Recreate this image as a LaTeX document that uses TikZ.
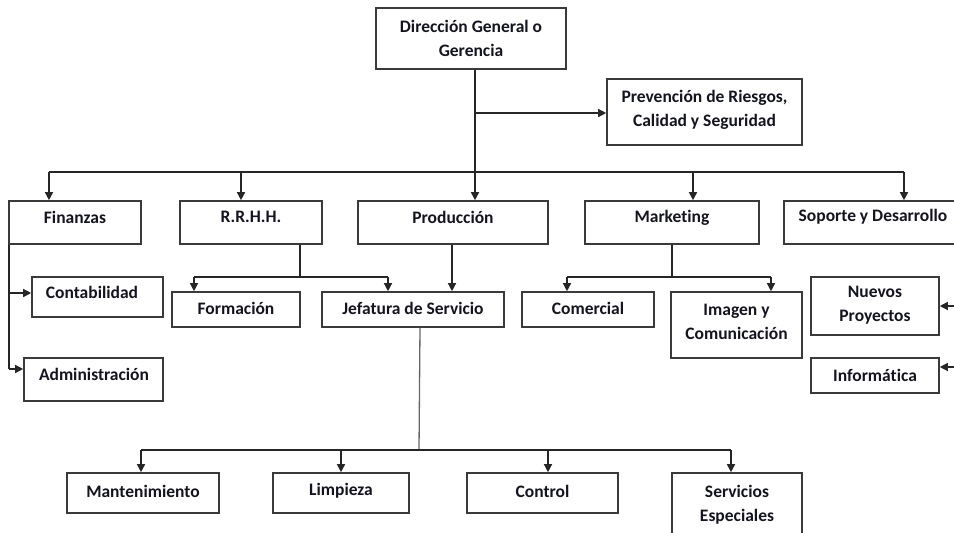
\documentclass[tikz,border=0pt]{standalone}
\usepackage{fontspec}
\setmainfont[Ligatures=NoCommon]{Carlito}
\usetikzlibrary{arrows.meta}
\definecolor{boxgray}{HTML}{3A3A3A}
\definecolor{textc}{HTML}{141420}
\begin{document}
\begin{tikzpicture}[x=1pt,y=-1pt,
  box/.style={draw=boxgray, line width=1.6pt, fill=white, inner sep=0pt},
  txt/.style={font=\fontsize{17.5}{24}\selectfont\bfseries, text=textc, align=center, inner sep=0pt},
  conn/.style={draw=black!85, line width=1.3pt},
  arr/.style={conn, -{Triangle[length=8pt,width=8pt]}}]
\useasboundingbox (0,0) rectangle (954,533);
\fill[white] (0,0) rectangle (954,533);
% boxes
\node[box, minimum width=190pt, minimum height=61pt] (dir) at (471,38.5) {};
\node[box, minimum width=195pt, minimum height=66pt] (prev) at (704.5,112) {};
\node[box, minimum width=132pt, minimum height=43pt] (fin) at (75,222.5) {};
\node[box, minimum width=142pt, minimum height=43pt] (rrhh) at (251,222.5) {};
\node[box, minimum width=190pt, minimum height=43pt] (prod) at (453,222.5) {};
\node[box, minimum width=174pt, minimum height=43pt] (mkt) at (672,222.5) {};
\node[box, minimum width=178pt, minimum height=43pt] (sop) at (873,222.5) {};
\node[box, minimum width=131pt, minimum height=40pt] (cont) at (97.5,297) {};
\node[box, minimum width=139pt, minimum height=43pt] (adm) at (93.5,379.5) {};
\node[box, minimum width=128pt, minimum height=35pt] (form) at (236,309.5) {};
\node[box, minimum width=182pt, minimum height=35pt] (jef) at (413,309.5) {};
\node[box, minimum width=132pt, minimum height=35pt] (com) at (588,309.5) {};
\node[box, minimum width=131pt, minimum height=66pt] (img) at (736.5,325) {};
\node[box, minimum width=128pt, minimum height=58pt] (nue) at (875,306) {};
\node[box, minimum width=128pt, minimum height=35pt] (inf) at (875,375.5) {};
\node[box, minimum width=152pt, minimum height=40pt] (man) at (143,493) {};
\node[box, minimum width=136pt, minimum height=40pt] (lim) at (341,493) {};
\node[box, minimum width=151pt, minimum height=40pt] (ctl) at (542.5,493) {};
\node[box, minimum width=130pt, minimum height=72pt] (srv) at (737,509) {};
% texts
\node[txt] (dirt) at (471,38) {Dirección General o\\Gerencia};
\node[txt] (prevt) at (704.5,110) {Prevención de Riesgos,\\Calidad y Seguridad};
\node[txt] (fint) at (75,217) {Finanzas};
\node[txt] (rrhht) at (251,217) {R.R.H.H.};
\node[txt] (prodt) at (453,217) {Producción};
\node[txt] (mktt) at (672,218) {Market\kern0pt ing};
\node[txt] (sopt) at (873,217) {Soporte y Desarrollo};
\node[txt] (contt) at (92,292) {Contabilidad};
\node[txt] (admt) at (94,374) {Administración};
\node[txt] (formt) at (236,308) {Formación};
\node[txt] (jeft) at (413,308) {Jefatura de Servicio};
\node[txt] (comt) at (588,308) {Comercial};
\node[txt] (imgt) at (736.5,322) {Imagen y\\Comunicación};
\node[txt] (nuet) at (875,305) {Nuevos\\Proyectos};
\node[txt] (inft) at (875,375) {Informática};
\node[txt] (mant) at (143,491) {Mantenimiento};
\node[txt] (limt) at (341,491) {Limpieza};
\node[txt] (ctlt) at (542.5,491) {Control};
\node[txt] (srvt) at (737,504.5) {Servicios\\Especiales};
% junction coordinates
\coordinate (tx) at (475,172);
\coordinate (pj) at (475,113);
\coordinate (bl) at (49,172);
\coordinate (br) at (241,172);
\coordinate (bm) at (693,172);
\coordinate (bs) at (904,172);
\coordinate (fx) at (9,0);
\coordinate (c1) at (9,293);
\coordinate (a1) at (9,369);
\coordinate (ry) at (300,277);
\coordinate (rl) at (194,277);
\coordinate (rr) at (388,277);
\coordinate (px) at (452,0);
\coordinate (my) at (672,277);
\coordinate (ml) at (567,277);
\coordinate (mr) at (771,277);
\coordinate (ne) at (954,306);
\coordinate (ie) at (954,367);
\coordinate (jx) at (420,0);
\coordinate (jy) at (419,450);
\coordinate (j1) at (141,450);
\coordinate (j2) at (341,450);
\coordinate (j3) at (548,450);
\coordinate (j4) at (731,450);
% top trunk
\draw[arr] (dir.south -| tx) -- (prod.north -| tx);
\draw[arr] (pj) -- (pj -| prev.west);
\draw[conn] (bl) -- (bs);
\draw[arr] (bl) -- (bl |- fin.north);
\draw[arr] (br) -- (br |- rrhh.north);
\draw[arr] (bm) -- (bm |- mkt.north);
\draw[arr] (bs) -- (bs |- sop.north);
% finanzas
\draw[conn] (fin.south -| fx) -- (a1);
\draw[arr] (c1) -- (c1 -| cont.west);
\draw[arr] (a1) -- (a1 -| adm.west);
% rrhh
\draw[conn] (rrhh.south -| ry) -- (ry);
\draw[conn] (rl) -- (rr);
\draw[arr] (rl) -- (rl |- form.north);
\draw[arr] (rr) -- (rr |- jef.north);
% produccion
\draw[arr] (prod.south -| px) -- (jef.north -| px);
% marketing
\draw[conn] (mkt.south -| my) -- (my);
\draw[conn] (ml) -- (mr);
\draw[arr] (ml) -- (ml |- com.north);
\draw[arr] (mr) -- (mr |- img.north);
% soporte side boxes
\draw[arr] (ne) -- (ne -| nue.east);
\draw[arr] (ie) -- (ie -| inf.east);
% jefatura
\draw[conn, draw=black!60] (jef.south -| jx) -- (jy);
\draw[conn] (j1) -- (j4);
\draw[arr] (j1) -- (j1 |- man.north);
\draw[arr] (j2) -- (j2 |- lim.north);
\draw[arr] (j3) -- (j3 |- ctl.north);
\draw[arr] (j4) -- (j4 |- srv.north);
\end{tikzpicture}
\end{document}
